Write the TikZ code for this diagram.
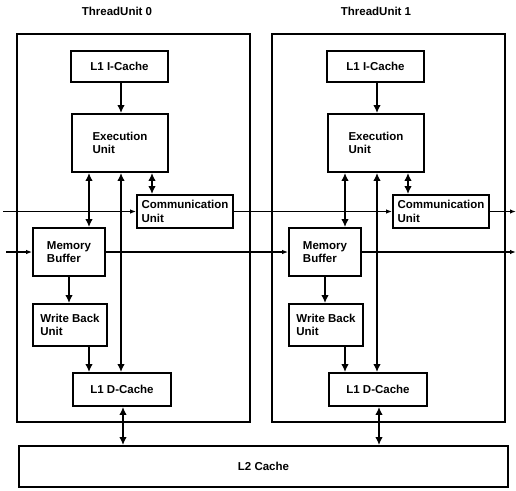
\documentclass[tikz,border=0pt]{standalone}
\usepackage{fontspec}
\setmainfont{Liberation Sans}
\usetikzlibrary{arrows.meta}
\begin{document}
\begin{tikzpicture}[x=1pt,y=-1pt,
  blk/.style={draw,line width=1.8pt,inner sep=0pt,align=left,
    font=\fontsize{11.5}{13.5}\selectfont\bfseries},
  big/.style={line width=2.8pt,-{Latex[length=8pt,width=7.5pt]}},
  dbl/.style={line width=2.8pt,{Latex[length=8pt,width=7.5pt]}-{Latex[length=8pt,width=7.5pt]}},
  thin/.style={line width=1.3pt,-{Latex[length=6pt,width=4.5pt]}},
  frame/.style={draw,line width=1.8pt},
  ttl/.style={font=\fontsize{11.5}{13.5}\selectfont\bfseries}]
\useasboundingbox (0,0) rectangle (516,490);
% thread unit frames
\draw[frame] (17,34) rectangle (250,422);
\draw[frame] (272,34) rectangle (505,422);
\node[ttl] (t0) at (117,11) {ThreadUnit 0};
\node[ttl] (t1) at (376,11) {ThreadUnit 1};
% L2 cache
\node[blk,minimum width=489pt,minimum height=41pt] (l2) at (263.5,466.5) {L2 Cache};
\foreach \i/\dx in {0/0,1/256}{
  \node[blk,minimum width=97pt,minimum height=31pt] (ic\i) at (119.5+\dx,66.5) {L1 I-Cache};
  \node[blk,minimum width=96pt,minimum height=58pt] (ex\i) at (120+\dx,143) {Execution\\Unit};
  \node[blk,minimum width=96pt,minimum height=33pt] (cm\i) at (185+\dx,211.5) {Communication\\Unit};
  \node[blk,minimum width=72pt,minimum height=48pt] (mb\i) at (69+\dx,252) {Memory\\Buffer};
  \node[blk,minimum width=74pt,minimum height=42pt] (wb\i) at (70+\dx,325) {Write Back\\Unit};
  \node[blk,minimum width=98pt,minimum height=33pt] (dc\i) at (122+\dx,389.5) {L1 D-Cache};
  \coordinate (xa\i) at (89+\dx,0);
  \coordinate (xb\i) at (121+\dx,0);
  \coordinate (xc\i) at (152+\dx,0);
  \coordinate (xd\i) at (69+\dx,0);
  \coordinate (xe\i) at (123+\dx,0);
  \draw[big] (ic\i.south -| xb\i) -- (ex\i.north -| xb\i);
  \draw[dbl] (ex\i.south -| xa\i) -- (mb\i.north -| xa\i);
  \draw[dbl] (ex\i.south -| xb\i) -- (dc\i.north -| xb\i);
  \draw[dbl] (ex\i.south -| xc\i) -- (cm\i.north -| xc\i);
  \draw[big] (mb\i.south -| xd\i) -- (wb\i.north -| xd\i);
  \draw[big] (wb\i.south -| xa\i) -- (dc\i.north -| xa\i);
  \draw[dbl] (dc\i.south -| xe\i) -- (l2.north -| xe\i);
}
% horizontal buses
\coordinate (cl) at (3,211.5);
\coordinate (cr) at (516,211.5);
\coordinate (ml) at (6,252);
\coordinate (mr) at (516,252);
\draw[thin] (cl) -- (cm0.west);
\draw[thin] (cm0.east) -- (cm1.west);
\draw[thin] (cm1.east) -- (cr);
\draw[thin] (ml) -- (mb0.west);
\draw[thin] (mb0.east) -- (mb1.west);
\draw[thin] (mb1.east) -- (mr);
\end{tikzpicture}
\end{document}
